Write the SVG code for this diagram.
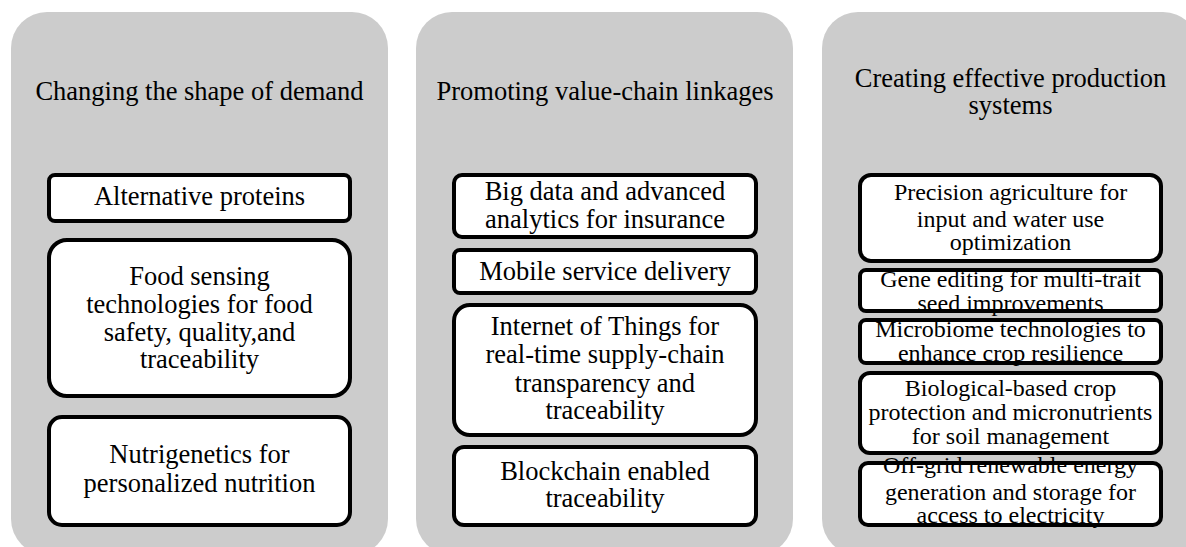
<svg xmlns="http://www.w3.org/2000/svg" width="1186" height="547" viewBox="0 0 1186 547">
<style>
.col{fill:#cccccc;stroke:none}
.bf{fill:#ffffff;stroke:none}
.bs{fill:none;stroke:#000000;stroke-width:4}
text{font-family:'Liberation Serif','DejaVu Serif',serif;fill:#000000;text-anchor:middle}
.t{font-size:26.5px}
.s{font-size:24px}
</style>
<rect width="1186" height="547" fill="#ffffff"/>
<g id="col1">
<rect class="col" x="11" y="12" width="377" height="543" rx="36"/>
<text class="t" x="199.5" y="100">Changing the shape of demand</text>
</g>
<g id="col2">
<rect class="col" x="416" y="12" width="377" height="543" rx="36"/>
<text class="t" x="605" y="100">Promoting value-chain linkages</text>
</g>
<g id="col3">
<rect class="col" x="822" y="12" width="377" height="543" rx="36"/>
<text class="t" x="1010.5" y="87">Creating effective production</text>
<text class="t" x="1010.5" y="114">systems</text>
</g>
<g id="n-alt">
<rect class="bf" x="49" y="175" width="301" height="46" rx="6"/>
<text class="t" x="199.5" y="205">Alternative proteins</text>
<rect class="bs" x="49" y="175" width="301" height="46" rx="6"/>
</g>
<g id="n-food">
<rect class="bf" x="49" y="240" width="301" height="156" rx="18"/>
<text class="t" x="199.5" y="285">Food sensing</text>
<text class="t" x="199.5" y="313">technologies for food</text>
<text class="t" x="199.5" y="341">safety, quality,and</text>
<text class="t" x="199.5" y="368">traceability</text>
<rect class="bs" x="49" y="240" width="301" height="156" rx="18"/>
</g>
<g id="n-nutri">
<rect class="bf" x="49" y="417" width="301" height="108" rx="13"/>
<text class="t" x="199.5" y="463">Nutrigenetics for</text>
<text class="t" x="199.5" y="492">personalized nutrition</text>
<rect class="bs" x="49" y="417" width="301" height="108" rx="13"/>
</g>
<g id="n-bigdata">
<rect class="bf" x="454" y="175" width="302" height="62" rx="8"/>
<text class="t" x="605" y="200">Big data and advanced</text>
<text class="t" x="605" y="228">analytics for insurance</text>
<rect class="bs" x="454" y="175" width="302" height="62" rx="8"/>
</g>
<g id="n-mobile">
<rect class="bf" x="454" y="250" width="302" height="43" rx="6"/>
<text class="t" x="605" y="280">Mobile service delivery</text>
<rect class="bs" x="454" y="250" width="302" height="43" rx="6"/>
</g>
<g id="n-iot">
<rect class="bf" x="454" y="305" width="302" height="130" rx="16"/>
<text class="t" x="605" y="335">Internet of Things for</text>
<text class="t" x="605" y="363">real-time supply-chain</text>
<text class="t" x="605" y="392">transparency and</text>
<text class="t" x="605" y="419">traceability</text>
<rect class="bs" x="454" y="305" width="302" height="130" rx="16"/>
</g>
<g id="n-block">
<rect class="bf" x="454" y="447" width="302" height="78" rx="10"/>
<text class="t" x="605" y="480">Blockchain enabled</text>
<text class="t" x="605" y="507">traceability</text>
<rect class="bs" x="454" y="447" width="302" height="78" rx="10"/>
</g>
<g id="n-precision">
<rect class="bf" x="860" y="175" width="301" height="86" rx="11"/>
<text class="s" x="1010.5" y="200">Precision agriculture for</text>
<text class="s" x="1010.5" y="227">input and water use</text>
<text class="s" x="1010.5" y="250">optimization</text>
<rect class="bs" x="860" y="175" width="301" height="86" rx="11"/>
</g>
<g id="n-gene">
<rect class="bf" x="860" y="270" width="301" height="41" rx="6"/>
<text class="s" x="1010.5" y="287">Gene editing for multi-trait</text>
<text class="s" x="1010.5" y="311">seed improvements</text>
<rect class="bs" x="860" y="270" width="301" height="41" rx="6"/>
</g>
<g id="n-micro">
<rect class="bf" x="860" y="320" width="301" height="43" rx="6"/>
<text class="s" x="1010.5" y="337">Microbiome technologies to</text>
<text class="s" x="1010.5" y="361">enhance crop resilience</text>
<rect class="bs" x="860" y="320" width="301" height="43" rx="6"/>
</g>
<g id="n-bio">
<rect class="bf" x="860" y="373" width="301" height="80" rx="10"/>
<text class="s" x="1010.5" y="396">Biological-based crop</text>
<text class="s" x="1010.5" y="420">protection and micronutrients</text>
<text class="s" x="1010.5" y="444">for soil management</text>
<rect class="bs" x="860" y="373" width="301" height="80" rx="10"/>
</g>
<g id="n-offgrid">
<rect class="bf" x="860" y="463" width="301" height="62" rx="8"/>
<text class="s" x="1010.5" y="473">Off-grid renewable energy</text>
<text class="s" x="1010.5" y="500">generation and storage for</text>
<text class="s" x="1010.5" y="523">access to electricity</text>
<rect class="bs" x="860" y="463" width="301" height="62" rx="8"/>
</g>
<g id="connectors"></g>
</svg>
